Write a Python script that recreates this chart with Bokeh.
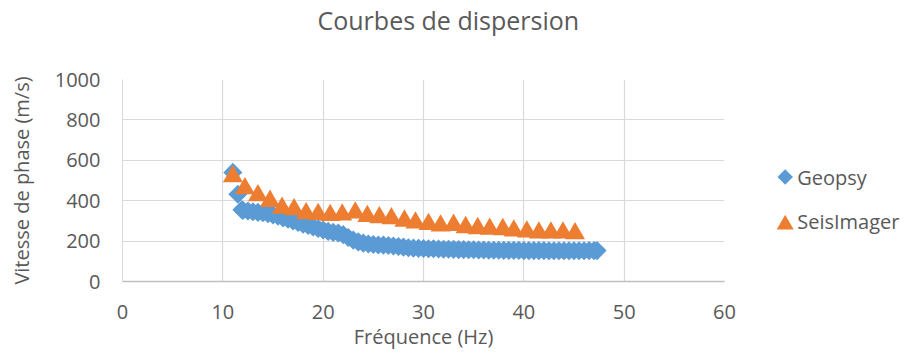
import math
from bokeh.plotting import figure
from bokeh.layouts import row
from bokeh.models import Range1d, FixedTicker, Title
from bokeh.core.properties import value
from bokeh.embed import file_html
from bokeh.resources import INLINE

# ---- data ----
geopsy_freq = [11.0, 11.5, 11.9, 12.0, 12.5, 13.0, 13.5, 14.0, 14.5, 15.0, 15.5, 16.0, 16.5,
               17.0, 17.5, 18.0, 18.5, 19.0, 19.5, 20.0, 20.5, 21.0, 21.5, 22.0, 22.5, 23.0,
               23.5, 24.0, 24.5, 25.0, 25.5, 26.0, 26.5, 27.0, 27.5, 28.0, 28.5, 29.0, 29.5,
               30.0, 30.5, 31.0, 31.5, 32.0, 32.5, 33.0, 33.5, 34.0, 34.5, 35.0, 35.5, 36.0,
               36.5, 37.0, 37.5, 38.0, 38.5, 39.0, 39.5, 40.0, 40.5, 41.0, 41.5, 42.0, 42.5,
               43.0, 43.5, 44.0, 44.5, 45.0, 45.5, 46.0, 46.5, 47.0, 47.3]
geopsy_vel = [540, 432, 355, 352, 349, 345, 342, 340, 336, 330, 323, 315, 308,
              300, 292, 284, 277, 270, 262, 255, 248, 243, 240, 232, 218, 205,
              196, 190, 186, 183, 181, 180, 178, 176, 173, 170, 167, 165, 164,
              163, 162, 162, 161, 160, 160, 159, 158, 158, 157, 157, 156, 156,
              155, 155, 155, 154, 154, 154, 154, 153, 153, 153, 153, 153, 152,
              152, 152, 152, 152, 152, 152, 152, 153, 153, 153]

seis_freq = [11.0, 12.2, 13.5, 14.7, 15.9, 17.1, 18.3, 19.5, 20.7, 21.9, 23.2, 24.4, 25.6,
             26.8, 28.1, 29.2, 30.5, 31.7, 33.0, 34.2, 35.4, 36.6, 37.9, 39.0, 40.3, 41.5,
             42.7, 43.9, 45.1]
seis_vel = [520, 460, 426, 398, 364, 356, 337, 333, 328, 330, 340, 323, 317,
            312, 300, 291, 283, 276, 279, 268, 263, 260, 258, 251, 246, 241,
            241, 241, 238]

x_ticks = [0, 10, 20, 30, 40, 50, 60]
y_ticks = [0, 200, 400, 600, 800, 1000]
series_names = ["Geopsy", "SeisImager"]

title_text = "Courbes de dispersion"
x_title = "Fréquence (Hz)"
y_title = "Vitesse de phase (m/s)"

FONT = "Open Sans"
TXT = "#595959"
BLUE = "#5B9BD5"
ORANGE = "#ED7D31"

W_MAIN, W_LEG, H = 740, 163, 352
FRAME_TOP, FRAME_BOTTOM = 78, 282

p = figure(width=W_MAIN, height=H, title_location=None,
           min_border_left=122, min_border_right=16,
           min_border_top=FRAME_TOP, min_border_bottom=H - FRAME_BOTTOM,
           x_range=Range1d(0, 60), y_range=Range1d(0, 1000),
           output_backend="svg", toolbar_location=None,
           background_fill_color="white", border_fill_color="white")
p.outline_line_color = None

# title stack: spacer (nearest the frame) then the real title on top
spacer = Title(text=" ", text_font_size="10px", standoff=30)
p.add_layout(spacer, "above")
main_title = Title(text=title_text, align="left", offset=195, standoff=0,
                   vertical_align="bottom",
                   text_font=FONT, text_font_size="25px", text_font_style="normal",
                   text_color=TXT)
p.add_layout(main_title, "above")

# axes
for ax in (p.xaxis[0], p.yaxis[0]):
    ax.major_label_text_font = FONT
    ax.major_label_text_font_size = "20px"
    ax.major_label_text_color = TXT
    ax.axis_label_text_font = FONT
    ax.axis_label_text_font_size = "20px"
    ax.axis_label_text_font_style = "normal"
    ax.axis_label_text_color = TXT
    ax.major_tick_line_color = None
    ax.minor_tick_line_color = None
    ax.major_tick_out = 0
    ax.major_tick_in = 0
    ax.minor_tick_out = 0
    ax.minor_tick_in = 0

p.xaxis.ticker = FixedTicker(ticks=x_ticks)
p.yaxis.ticker = FixedTicker(ticks=y_ticks)
p.xaxis.axis_label = x_title
p.yaxis.axis_label = y_title
p.xaxis.axis_line_color = "#bfbfbf"
p.xaxis.axis_line_width = 1.5
p.yaxis.axis_line_color = "#d9d9d9"
p.yaxis.axis_line_width = 1
p.xaxis.major_label_standoff = 23
p.yaxis.major_label_standoff = 22
p.xaxis.axis_label_standoff = 1
p.yaxis.axis_label_standoff = 17

p.xgrid.ticker = FixedTicker(ticks=x_ticks)
p.ygrid.ticker = FixedTicker(ticks=y_ticks)
p.xgrid.grid_line_color = "#d9d9d9"
p.ygrid.grid_line_color = "#d9d9d9"
p.xgrid.grid_line_width = 1.2
p.ygrid.grid_line_width = 1.2

p.scatter(geopsy_freq, geopsy_vel, marker="square", size=13.5, angle=math.pi / 4,
          fill_color=BLUE, line_color=BLUE, line_width=0)
p.scatter(seis_freq, seis_vel, marker="triangle", size=20,
          fill_color=ORANGE, line_color=ORANGE, line_width=0)

# ---- legend panel (a second, axis-less figure; its frame is aligned with the main frame) ----
leg = figure(width=W_LEG, height=H, title_location=None,
             x_axis_location=None, y_axis_location=None,
             min_border_left=0, min_border_right=0,
             min_border_top=FRAME_TOP, min_border_bottom=H - FRAME_BOTTOM,
             x_range=Range1d(0, W_LEG), y_range=Range1d(H - FRAME_BOTTOM, H - FRAME_TOP),
             output_backend="svg", toolbar_location=None,
             background_fill_color="white", border_fill_color="white")
leg.outline_line_color = None
leg.grid.visible = False

mark_x = 44.7
text_x = 56.7
row_y = [H - 176.5, H - 221.0]
leg.scatter([mark_x], [row_y[0]], marker="square", size=11, angle=math.pi / 4,
            fill_color=BLUE, line_color=BLUE, line_width=0)
leg.scatter([mark_x], [row_y[1] - 3.5], marker="triangle", size=17,
            fill_color=ORANGE, line_color=ORANGE, line_width=0)
leg.text([text_x, text_x], [row_y[0], row_y[1]], text=series_names,
         text_font=value(FONT), text_font_size="20px", text_color=TXT,
         text_baseline="middle", text_align="left")

layout = row(p, leg)
open("out.html", "w").write(file_html(layout, INLINE))
